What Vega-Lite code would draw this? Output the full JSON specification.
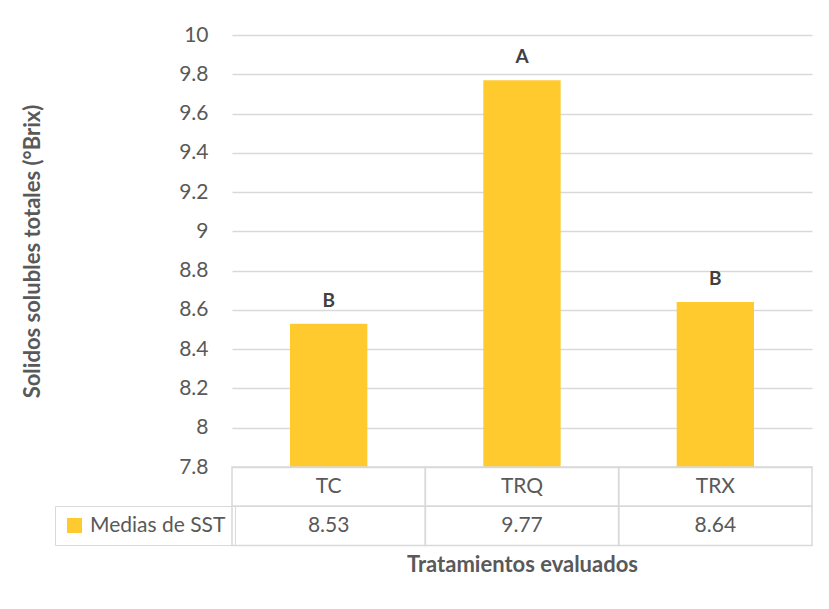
{
  "$schema": "https://vega.github.io/schema/vega-lite/v6.json",
  "width": 580,
  "height": 432,
  "autosize": {"type": "none"},
  "padding": {"left": 232, "top": 35, "right": 17, "bottom": 142},
  "background": "white",
  "config": {"font": "Lato", "view": {"stroke": null}},
  "data": {
    "values": [
      {"trat": "TC", "media": 8.53, "letra": "B", "serie": "Medias de SST"},
      {"trat": "TRQ", "media": 9.77, "letra": "A", "serie": "Medias de SST"},
      {"trat": "TRX", "media": 8.64, "letra": "B", "serie": "Medias de SST"}
    ]
  },
  "encoding": {
    "x": {
      "field": "trat",
      "type": "nominal",
      "sort": ["TC", "TRQ", "TRX"],
      "scale": {"paddingInner": 0, "paddingOuter": 0},
      "axis": {
        "labels": false,
        "ticks": false,
        "domain": false,
        "title": "Tratamientos evaluados",
        "titleFontSize": 22,
        "titleFontWeight": "bold",
        "titleColor": "#595959",
        "titlePadding": 87
      }
    }
  },
  "layer": [
    {
      "mark": {"type": "bar", "width": {"band": 0.4}},
      "encoding": {
        "y": {
          "field": "media",
          "type": "quantitative",
          "scale": {"domain": [7.8, 10], "nice": false, "zero": false},
          "axis": {
            "values": [7.8, 8, 8.2, 8.4, 8.6, 8.8, 9, 9.2, 9.4, 9.6, 9.8, 10],
            "tickCount": 30,
            "format": "~g",
            "labelOverlap": false,
            "labelBound": false,
            "ticks": false,
            "domain": false,
            "grid": true,
            "gridColor": "#d9d9d9",
            "gridWidth": 1.5,
            "labelFontSize": 21,
            "labelColor": "#595959",
            "labelPadding": 24,
            "title": "Solidos solubles totales (°Brix)",
            "titleFontSize": 22,
            "titleFontWeight": "bold",
            "titleColor": "#595959",
            "titleX": -200,
            "titleY": 216,
            "titleAngle": -90,
            "titleAlign": "center",
            "titleBaseline": "middle"
          }
        },
        "y2": {"datum": 7.8},
        "color": {
          "field": "serie",
          "type": "nominal",
          "scale": {"range": ["#FFCA2E"]},
          "legend": {
            "orient": "none",
            "legendX": -177,
            "legendY": 471,
            "title": null,
            "strokeColor": "#d9d9d9",
            "padding": 9,
            "symbolType": "square",
            "symbolSize": 225,
            "symbolStrokeWidth": 0,
            "labelFontSize": 21,
            "labelColor": "#595959",
            "labelOffset": 5
          }
        }
      }
    },
    {
      "mark": {"type": "text", "baseline": "alphabetic", "dy": -17, "fontSize": 19, "fontWeight": "bold", "color": "#404040"},
      "encoding": {
        "y": {"field": "media", "type": "quantitative"},
        "text": {"field": "letra"}
      }
    },
    {
      "mark": {"type": "rect", "fill": null, "stroke": "#d9d9d9", "strokeWidth": 1.5},
      "encoding": {"y": {"datum": 7.8}, "y2": {"datum": 7.6}}
    },
    {
      "mark": {"type": "rect", "fill": null, "stroke": "#d9d9d9", "strokeWidth": 1.5},
      "encoding": {"y": {"datum": 7.6}, "y2": {"datum": 7.4}}
    },
    {
      "mark": {"type": "text", "fontSize": 21, "color": "#595959", "baseline": "middle"},
      "encoding": {"y": {"datum": 7.7}, "text": {"field": "trat"}}
    },
    {
      "mark": {"type": "text", "fontSize": 21, "color": "#595959", "baseline": "middle"},
      "encoding": {"y": {"datum": 7.5}, "text": {"field": "media", "format": ".2f"}}
    }
  ]
}
